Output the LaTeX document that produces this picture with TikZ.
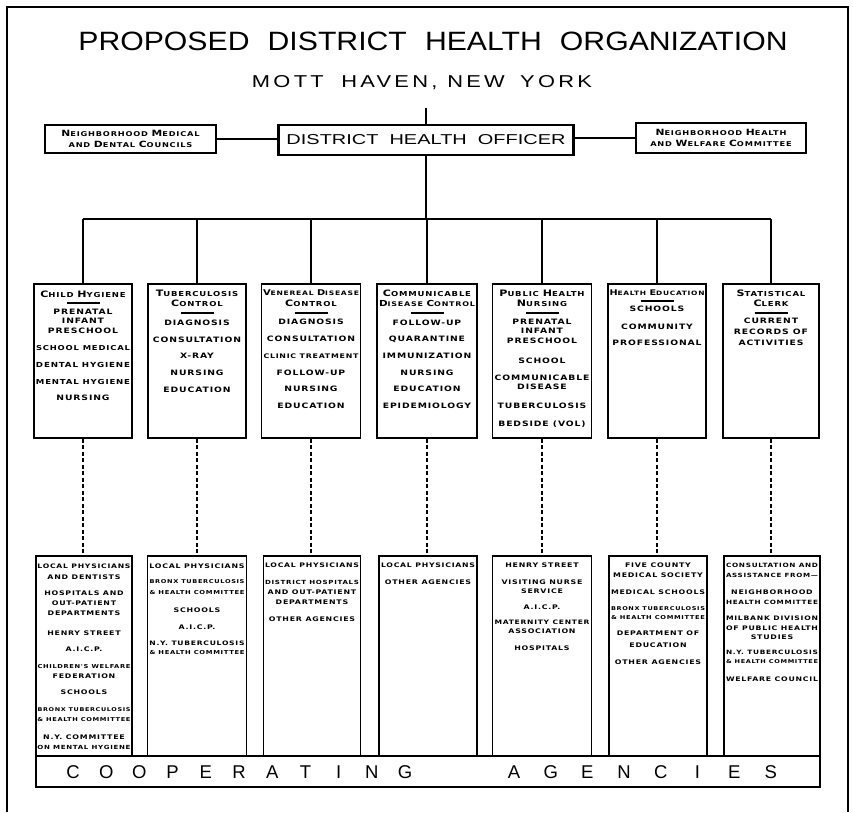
\documentclass[tikz,border=0pt]{standalone}
\usepackage{fontspec}
\usepackage{graphicx}
\setmainfont{Liberation Sans}
\newfontfamily\letr[FakeStretch=1.25,LetterSpace=12]{DejaVu Sans}
\newfontfamily\titlef{Liberation Sans}
\newfontfamily\spacedf[LetterSpace=15]{Liberation Sans}
\newsavebox\fitbox
% shrink a line to a maximum width, leave it alone when it already fits
\newcommand\fitw[2]{\sbox\fitbox{#2}\ifdim\wd\fitbox>#1\relax\resizebox{#1}{!}{\usebox\fitbox}\else\usebox\fitbox\fi}
% larger initial letter for the small-capital headings
\newcommand\Ini[1]{\scalebox{1.3}{#1}}
% a column of text lines: name, x, style, max width, {text/y,...}
\newcommand\stack[5]{\foreach \t/\y [count=\i] in {#5} {\node[#3] (#1-\i) at (#2,\y) {\fitw{#4}{\t}};}}
\tikzset{
  conn/.style={line width=1.7pt},
  dconn/.style={line width=1.9pt, dash pattern=on 4pt off 2.5pt},
  frame/.style={line width=2pt},
  ubox/.style={draw, line width=1.6pt, minimum height=154pt, inner sep=0pt},
  lbox/.style={draw, line width=1.6pt, minimum height=200pt, inner sep=0pt},
  sidebox/.style={draw, line width=1.6pt, inner sep=0pt, align=center,
    font=\letr\bfseries\fontsize{6.6}{11}\selectfont},
  dhobox/.style={draw, line width=2.4pt, inner sep=0pt, minimum width=295pt, minimum height=30pt},
  head/.style={inner sep=0pt, font=\letr\bfseries\fontsize{6.8}{7}\selectfont},
  item/.style={inner sep=0pt, font=\letr\bfseries\fontsize{7.4}{8}\selectfont},
  litem/.style={inner sep=0pt, font=\letr\bfseries\fontsize{6.3}{7}\selectfont},
  coop/.style={inner sep=0pt, font=\titlef\fontsize{18.5}{18}\selectfont},
  rulest/.style={line width=1.2pt},
}
\begin{document}
\begin{tikzpicture}[x=1pt,y=-1pt]
\useasboundingbox (0,0) rectangle (853,812);
\fill[white] (0,0) rectangle (853,812);

% outer frame, open at the foot of the sheet
\draw[frame] (6.5,812) -- (6.5,7) -- (848,7) -- (848,812);

% headings
\node[inner sep=0pt] (title) at (433,41) {\resizebox{709pt}{18.5pt}{\titlef PROPOSED\hspace{0.6em}DISTRICT\hspace{0.6em}HEALTH\hspace{0.6em}ORGANIZATION}};
\node[inner sep=0pt] (place) at (422,83) {\resizebox{340pt}{12pt}{\spacedf MOTT\hspace{0.8em}HAVEN,\hspace{0.45em}NEW\hspace{0.7em}YORK}};

% top level
\node[dhobox] (dho) at (426,140) {\resizebox{279pt}{10pt}{\titlef DISTRICT\ \ HEALTH\ \ OFFICER}};
\node[sidebox, minimum width=171pt, minimum height=28pt] (nmd) at (130.5,139)
  {\Ini{N}EIGHBORHOOD \Ini{M}EDICAL\\AND \Ini{D}ENTAL \Ini{C}OUNCILS};
\node[sidebox, minimum width=170pt, minimum height=30pt] (nhw) at (721,138)
  {\Ini{N}EIGHBORHOOD \Ini{H}EALTH\\AND \Ini{W}ELFARE \Ini{C}OMMITTEE};

% division boxes
\foreach \n/\x/\w in {1/83/98, 2/197/98, 3/311/99, 4/427/100, 5/542/99, 6/657/98, 7/771/96}
  \node[ubox, minimum width=\w pt] (u\n) at (\x,361) {};
% cooperating agency boxes
\foreach \n/\x/\w in {1/84/96, 2/197/99, 3/312/97, 4/428/98, 5/542/99, 6/658/98, 7/772/96}
  \node[lbox, minimum width=\w pt] (l\n) at (\x,656) {};
\node[draw, line width=1.6pt, minimum width=784pt, minimum height=31pt, inner sep=0pt] (coopbox) at (428,771.5) {};

% connectors
\coordinate (topend) at (426,108);
\coordinate (bus) at (426,219);
\draw[conn] (topend) -- (dho.north);
\draw[conn] (dho.south) -- (bus);
\draw[conn] (nmd.east) -- (nmd.east -| dho.west);
\draw[conn] (nhw.west) -- (nhw.west -| dho.east);
\draw[conn] (u1.north |- bus) -- (u7.north |- bus);
\foreach \n in {1,...,7} \draw[conn] (u\n.north |- bus) -- (u\n.north);
\foreach \n in {1,...,7} \draw[dconn] (u\n.south) -- (u\n.south |- l\n.north);

% short rules under the division names
\foreach \n/\dy in {1/-58, 2/-48, 3/-48, 4/-48, 5/-48, 6/-60, 7/-48}
  \draw[rulest] (u\n.center) ++(-16.5,\dy) -- ++(33,0);

% division names and duties
\stack{u1h}{83}{head}{94pt}{{\Ini{C}HILD \Ini{H}YGIENE}/294}
\stack{u1i}{83}{item}{94pt}{PRENATAL/312, INFANT/321, PRESCHOOL/331, SCHOOL MEDICAL/348, DENTAL HYGIENE/365, MENTAL HYGIENE/382, NURSING/398}
\stack{u2h}{197}{head}{94pt}{{\Ini{T}UBERCULOSIS}/293, {\Ini{C}ONTROL}/303}
\stack{u2i}{197}{item}{94pt}{DIAGNOSIS/323, CONSULTATION/340, X-RAY/356, NURSING/373, EDUCATION/390}
\stack{u3h}{311}{head}{96pt}{{\Ini{V}ENEREAL \Ini{D}ISEASE}/293, {\Ini{C}ONTROL}/303}
\stack{u3i}{311}{item}{95pt}{DIAGNOSIS/322, CONSULTATION/339, CLINIC TREATMENT/356, FOLLOW-UP/373, NURSING/389, EDUCATION/406}
\stack{u4h}{427}{head}{96pt}{{\Ini{C}OMMUNICABLE}/293, {\Ini{D}ISEASE \Ini{C}ONTROL}/303}
\stack{u4i}{427}{item}{95pt}{FOLLOW-UP/323, QUARANTINE/339, IMMUNIZATION/356, NURSING/373, EDUCATION/389, EPIDEMIOLOGY/406}
\stack{u5h}{542}{head}{95pt}{{\Ini{P}UBLIC \Ini{H}EALTH}/293, {\Ini{N}URSING}/303}
\stack{u5i}{542}{item}{95pt}{PRENATAL/322, INFANT/331, PRESCHOOL/341, SCHOOL/361, COMMUNICABLE/378, DISEASE/387, TUBERCULOSIS/406, BEDSIDE (VOL)/424}
\stack{u6h}{657}{head}{95pt}{{\Ini{H}EALTH \Ini{E}DUCATION}/293}
\stack{u6i}{657}{item}{94pt}{SCHOOLS/309, COMMUNITY/327, PROFESSIONAL/343}
\stack{u7h}{771}{head}{92pt}{{\Ini{S}TATISTICAL}/293, {\Ini{C}LERK}/303}
\stack{u7i}{771}{item}{92pt}{CURRENT/321, RECORDS OF/332, ACTIVITIES/343}

% cooperating agencies
\stack{l1i}{84}{litem}{93pt}{LOCAL PHYSICIANS/566, AND DENTISTS/577, HOSPITALS AND/593, OUT-PATIENT/603, DEPARTMENTS/613, HENRY STREET/633, A.I.C.P./649, CHILDREN'S WELFARE/667, FEDERATION/676, SCHOOLS/692, BRONX TUBERCULOSIS/710, \& HEALTH COMMITTEE/720, N.Y. COMMITTEE/737, ON MENTAL HYGIENE/747}
\stack{l2i}{197}{litem}{95pt}{LOCAL PHYSICIANS/566, BRONX TUBERCULOSIS/582, \& HEALTH COMMITTEE/593, SCHOOLS/610, A.I.C.P./627, N.Y. TUBERCULOSIS/643, \& HEALTH COMMITTEE/653}
\stack{l3i}{312}{litem}{94pt}{LOCAL PHYSICIANS/565, DISTRICT HOSPITALS/582, AND OUT-PATIENT/592, DEPARTMENTS/602, OTHER AGENCIES/619}
\stack{l4i}{428}{litem}{94pt}{LOCAL PHYSICIANS/565, OTHER AGENCIES/582}
\stack{l5i}{542}{litem}{95pt}{HENRY STREET/565, VISITING NURSE/582, SERVICE/591, A.I.C.P./607, MATERNITY CENTER/622, ASSOCIATION/631, HOSPITALS/648}
\stack{l6i}{658}{litem}{94pt}{FIVE COUNTY/565, MEDICAL SOCIETY/575, MEDICAL SCHOOLS/592, BRONX TUBERCULOSIS/609, \& HEALTH COMMITTEE/618, DEPARTMENT OF/633, EDUCATION/645, OTHER AGENCIES/662}
\stack{l7i}{772}{litem}{92pt}{CONSULTATION AND/565, ASSISTANCE FROM—/575, NEIGHBORHOOD/592, HEALTH COMMITTEE/602, MILBANK DIVISION/618, OF PUBLIC HEALTH/628, STUDIES/637, N.Y. TUBERCULOSIS/652, \& HEALTH COMMITTEE/662, WELFARE COUNCIL/679}

% spaced lettering along the base
\foreach \c [count=\i] in {C,O,O,P,E,R,A,T,I,N,G}
  \node[coop] (ca\i) at ({73+33.2*(\i-1)},772) {\c};
\foreach \c [count=\i] in {A,G,E,N,C,I,E,S}
  \node[coop] (cb\i) at ({514+36.7*(\i-1)},772) {\c};
\end{tikzpicture}
\end{document}
